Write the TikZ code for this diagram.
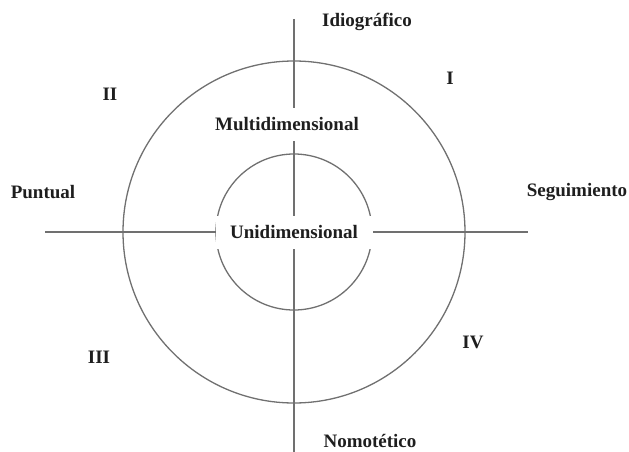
\documentclass[tikz,border=0pt]{standalone}
\usepackage{fontspec}
\setmainfont{Liberation Serif}
\usetikzlibrary{positioning}
\definecolor{axisgray}{HTML}{707070}
\definecolor{labelink}{HTML}{1E1E1E}

\begin{document}
\begin{tikzpicture}[x=1pt, y=-1pt,
        axisline/.style={draw=axisgray, line width=1.3pt},
        lbl/.style={text=labelink, font=\fontsize{19}{22}\selectfont\bfseries, inner sep=2pt},
        coverlbl/.style={lbl, fill=white, minimum height=33pt}]
        \useasboundingbox (0,0) rectangle (629,452);

        % Axis ends and centre
        \coordinate (ctr) at (294,232);
        \coordinate (north) at (294,19);
        \coordinate (south) at (294,452);
        \coordinate (west) at (45,232);
        \coordinate (east) at (528,232);

        % Axes
        \draw[axisline] (north) -- (south);
        \draw[axisline] (west) -- (east);

        % Circles
        \draw[axisline] (ctr) circle[radius=171];
        \draw[axisline] (ctr) circle[radius=78];

        % Dimension labels (cover the lines)
        \node[coverlbl, minimum width=157pt] (uni) at (ctr) {Unidimensional};
        \node[coverlbl] (multi) at (287,124) {Multidimensional};

        % Pole labels
        \node[lbl] (idio) at (367,22) {Idiográfico};
        \node[lbl] (nomo) at (370,441) {Nomotético};
        \node[lbl] (punt) at (43,192) {Puntual};
        \node[lbl] (segu) at (577,192) {Seguimiento};

        % Quadrants
        \node[lbl] (qI) at (450,78) {I};
        \node[lbl] (qII) at (110,94) {II};
        \node[lbl] (qIII) at (99,357) {III};
        \node[lbl] (qIV) at (473,342) {IV};
    \end{tikzpicture}
\end{document}
